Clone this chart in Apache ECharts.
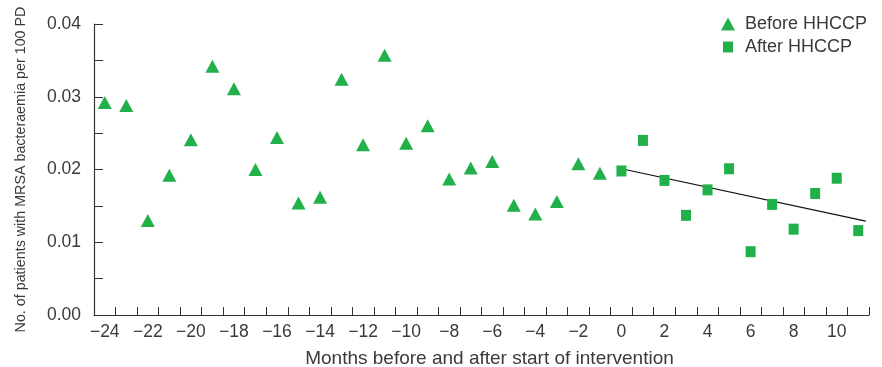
<!DOCTYPE html>
<html>
<head>
<meta charset="utf-8">
<script src="https://cdn.jsdelivr.net/npm/echarts@6/dist/echarts.min.js"></script>
<style>html,body{margin:0;padding:0;background:#fff}#c{width:882px;height:367px}</style>
</head>
<body>
<div id="c"></div>
<script>
// Months (category axis)
var months = [];
for (var m = -24; m <= 11; m++) months.push(m);

var beforeX = [-24,-23,-22,-21,-20,-19,-18,-17,-16,-15,-14,-13,-12,-11,-10,-9,-8,-7,-6,-5,-4,-3,-2,-1];
var beforeY = [0.0292,0.0288,0.0130,0.0192,0.0241,0.0342,0.0311,0.0200,0.0244,0.0154,0.0162,0.0324,0.0234,0.0357,0.0236,0.0260,0.0187,0.0202,0.0211,0.0151,0.0139,0.0156,0.0208,0.0195];

var afterX = [0,1,2,3,4,5,6,7,8,9,10,11];
var afterY = [0.0198,0.0240,0.0185,0.0137,0.0172,0.0201,0.0087,0.0152,0.0118,0.0167,0.0188,0.0116];

var trendX = [0, 11.35];
var trendY = [0.0201, 0.0129];

var yTicks = [0.00, 0.01, 0.02, 0.03, 0.04];

function zip(a, b) { return a.map(function (v, i) { return [v, b[i]]; }); }

var GREEN = '#22b04b';
var TXT = '#3a3a3a';
var FONT = 'Liberation Sans';

var chart = echarts.init(document.getElementById('c'), null, {renderer: 'canvas'});
chart.setOption({
  animation: false,
  grid: {left: 94, right: 13, top: 24, bottom: 52, containLabel: false, outerBoundsMode: 'none'},
  legend: [
    {data: [{name: 'Before HHCCP', icon: 'triangle'}], orient: 'vertical', left: 721, top: 15, padding: 0,
     itemWidth: 14, itemHeight: 13, selectedMode: false,
     textStyle: {fontFamily: FONT, fontSize: 18, color: TXT, padding: [0,0,0,5]}},
    {data: [{name: 'After HHCCP', icon: 'rect'}], orient: 'vertical', left: 723, top: 38, padding: 0,
     itemWidth: 10, itemHeight: 11, selectedMode: false,
     textStyle: {fontFamily: FONT, fontSize: 18, color: TXT, padding: [0,0,0,7]}}
  ],
  xAxis: [
    {type: 'category', data: months, boundaryGap: true,
     name: 'Months before and after start of intervention', nameLocation: 'middle', nameGap: 34,
     nameTextStyle: {fontFamily: FONT, fontSize: 19, color: TXT, padding: [0, 0, 0, 16]},
     axisLine: {lineStyle: {color: '#333', width: 1.2}},
     axisTick: {show: true, inside: true, length: 8, interval: 0, alignWithLabel: false, lineStyle: {color: '#333'}},
     axisLabel: {interval: 1, margin: 8, fontFamily: FONT, fontSize: 17.5, color: TXT,
       formatter: function (v) { v = +v; return v < 0 ? '\u2212' + Math.abs(v) : String(v); }},
     splitLine: {show: false}},
    {type: 'value', min: -24.5, max: 11.5, show: false}
  ],
  yAxis: {type: 'value', min: 0, max: 0.04, interval: 0.005,
    name: 'No. of patients with MRSA bacteraemia per 100 PD', nameLocation: 'middle', nameGap: 66,
    nameTextStyle: {fontFamily: FONT, fontSize: 14.3, color: TXT},
    axisLine: {show: true, onZero: false, lineStyle: {color: '#333', width: 1.2}},
    axisTick: {show: true, inside: true, length: 9, lineStyle: {color: '#333'}},
    axisLabel: {margin: 13, fontFamily: FONT, fontSize: 17.5, color: TXT,
      formatter: function (v) {
        for (var i = 0; i < yTicks.length; i++) if (Math.abs(v - yTicks[i]) < 1e-9) return yTicks[i].toFixed(2);
        return '';
      }},
    splitLine: {show: false}},
  series: [
    {name: 'Before HHCCP', type: 'scatter', xAxisIndex: 1, symbol: 'triangle', symbolSize: [14, 13],
     itemStyle: {color: GREEN, opacity: 1}, data: zip(beforeX, beforeY)},
    {name: 'After HHCCP', type: 'scatter', xAxisIndex: 1, symbol: 'rect', symbolSize: [10, 11],
     itemStyle: {color: GREEN, opacity: 1}, data: zip(afterX, afterY)},
    {name: 'Trend', type: 'line', xAxisIndex: 1, data: zip(trendX, trendY), symbol: 'none',
     lineStyle: {color: '#111', width: 1.2}, z: 1}
  ]
});
</script>
</body>
</html>
